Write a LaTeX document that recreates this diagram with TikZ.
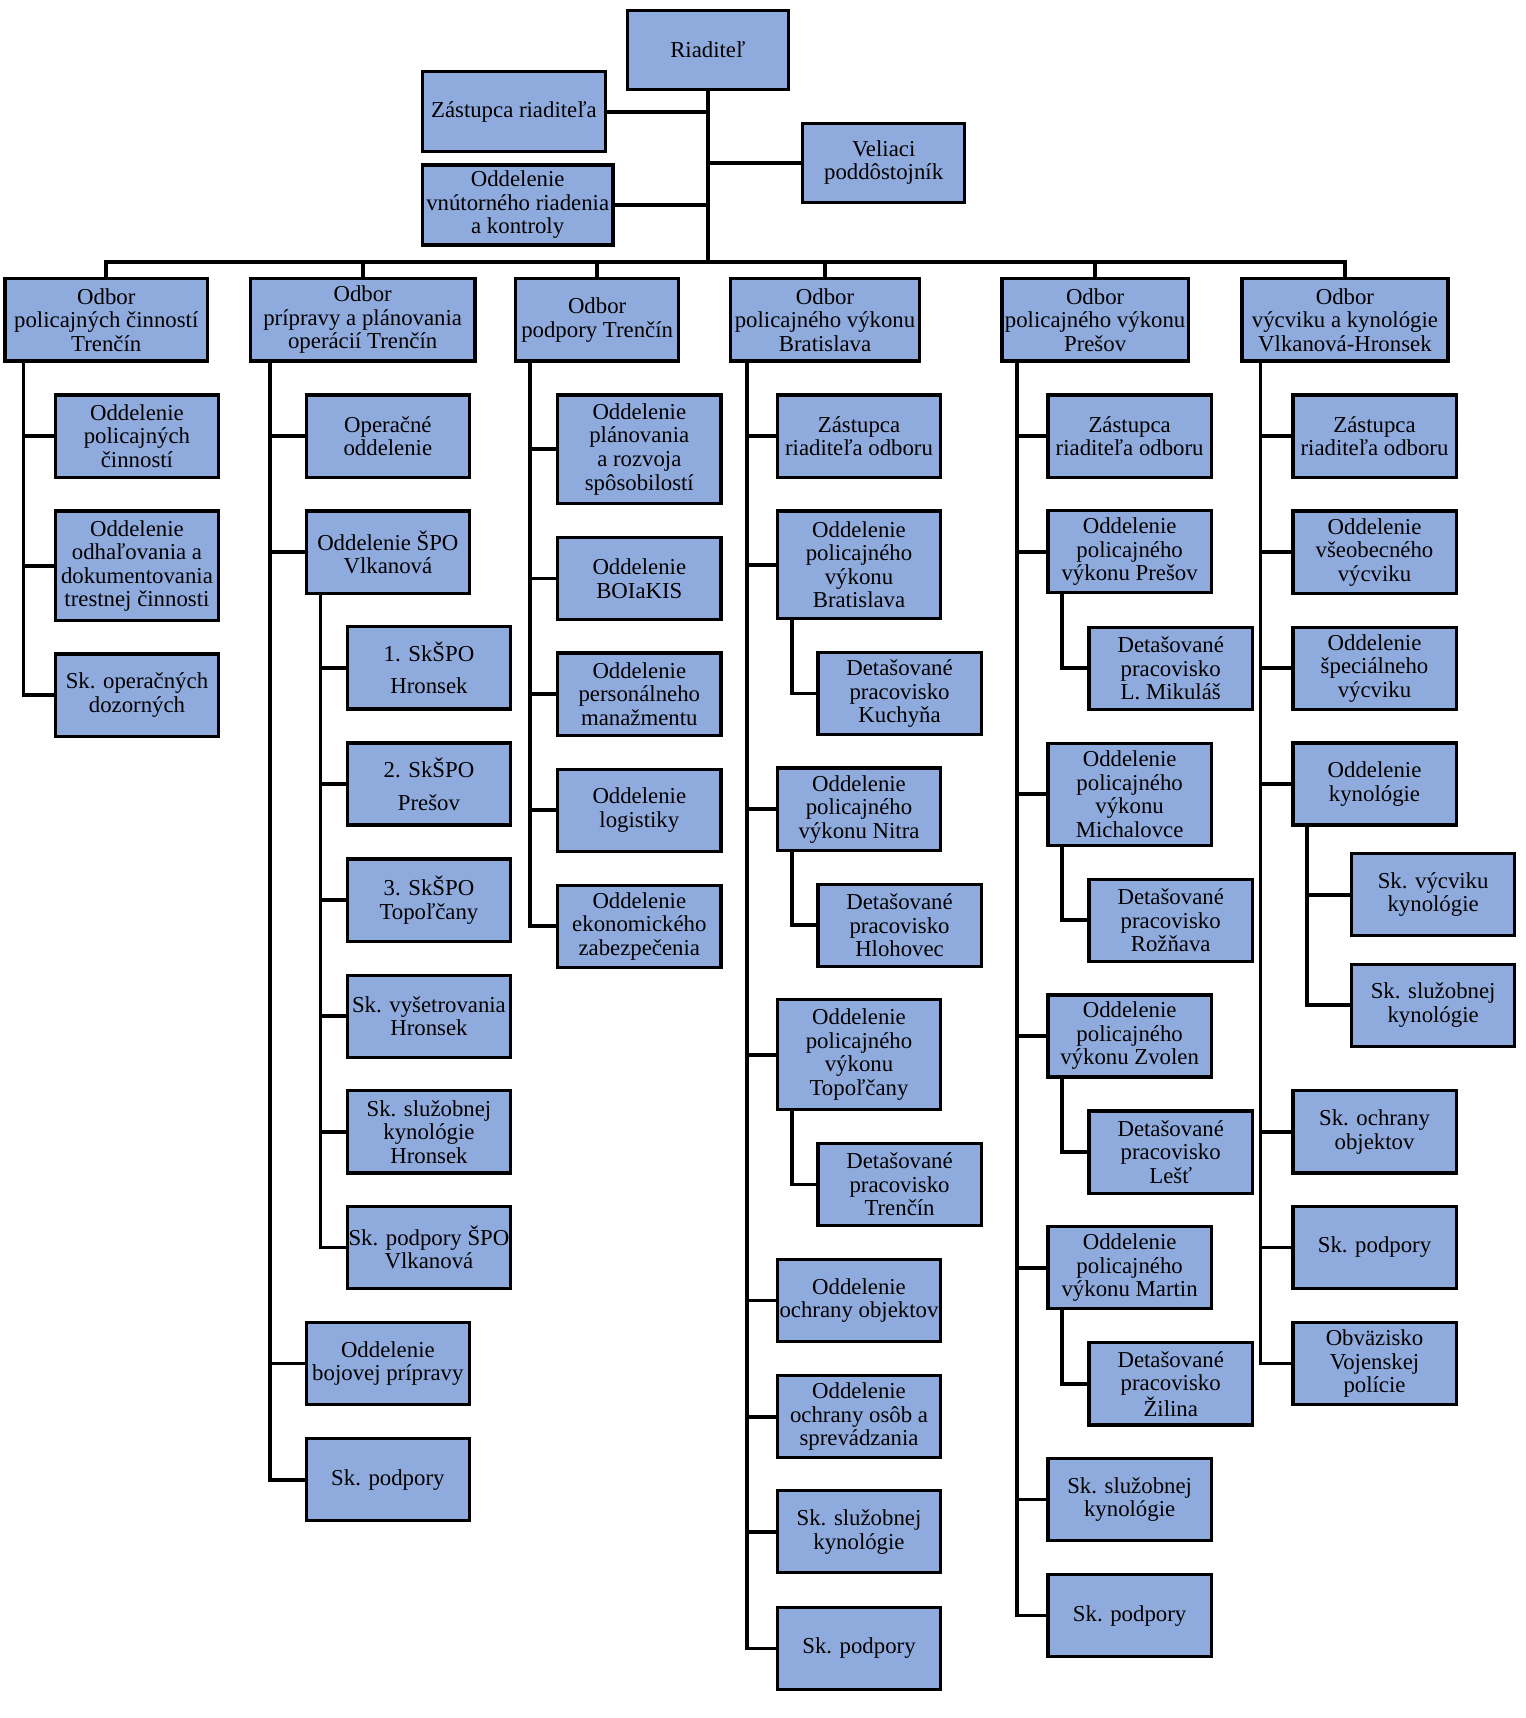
\documentclass[tikz,border=0pt]{standalone}
\usepackage{fontspec}
\setmainfont{Liberation Serif}
\definecolor{boxblue}{RGB}{143,170,220}
\tikzset{
  box/.style={draw, line width=3pt, fill=boxblue, inner sep=0pt, align=center,
    minimum width=149pt, minimum height=75pt, font=\fontsize{20.8}{21.5}\selectfont},
  conn/.style={line width=3.5pt}
}
\begin{document}
\begin{tikzpicture}[x=1pt, y=-1pt]
  \useasboundingbox (0,0) rectangle (1392,1568);

  % vedenie
  \node[box, minimum width=147pt, minimum height=72pt] (riad) at (646,45.5) {Riaditeľ};
  \node[box, minimum width=167pt, minimum height=73pt] (zast) at (469,102) {Zástupca riaditeľa};
  \node[box, minimum width=174pt, minimum height=73pt] (ovrk) at (472.5,187) {Oddelenie\\vnútorného riadenia\\a kontroly};
  \node[box, minimum width=148pt, minimum height=72pt] (vel) at (806.5,148.5) {Veliaci\\poddôstojník};

  % odbory
  \node[box, minimum width=185pt] (odb1) at (97,292) {Odbor\\policajných činností\\Trenčín};
  \node[box, minimum width=205pt] (odb2) at (331,292) {Odbor\\prípravy a plánovania\\operácií Trenčín};
  \node[box] (odb3) at (545,292) {Odbor\\podpory Trenčín};
  \node[box, minimum width=173pt] (odb4) at (753,292) {Odbor\\policajného výkonu\\Bratislava};
  \node[box, minimum width=170pt] (odb5) at (999.5,292) {Odbor\\policajného výkonu\\Prešov};
  \node[box, minimum width=188pt] (odb6) at (1227.5,292) {Odbor\\výcviku a kynológie\\Vlkanová-Hronsek};

  % odbor policajnych cinnosti
  \node[box] (a1) at (125,398) {Oddelenie\\policajných\\činností};
  \node[box, minimum height=100pt] (a2) at (125,516.5) {Oddelenie\\odhaľovania a\\dokumentovania\\trestnej činnosti};
  \node[box] (a3) at (125,634.5) {Sk. operačných\\dozorných};

  % odbor pripravy a planovania
  \node[box] (b1) at (354,398) {Operačné\\oddelenie};
  \node[box] (b2) at (354,504) {Oddelenie ŠPO\\Vlkanová};
  \node[box] (b21) at (391.5,609.5) {1. SkŠPO\\[8.5pt]Hronsek};
  \node[box] (b22) at (391.5,715.5) {2. SkŠPO\\[8.5pt]Prešov};
  \node[box] (b23) at (391.5,821.5) {3. SkŠPO\\Topoľčany};
  \node[box] (b24) at (391.5,927.5) {Sk. vyšetrovania\\Hronsek};
  \node[box] (b25) at (391.5,1033) {Sk. služobnej\\kynológie\\Hronsek};
  \node[box] (b26) at (391.5,1138.5) {Sk. podpory ŠPO\\Vlkanová};
  \node[box] (b3) at (354,1244.5) {Oddelenie\\bojovej prípravy};
  \node[box] (b4) at (354,1350.5) {Sk. podpory};

  % odbor podpory
  \node[box, minimum height=99pt] (c1) at (583.5,410) {Oddelenie\\plánovania\\a rozvoja\\spôsobilostí};
  \node[box] (c2) at (583.5,528) {Oddelenie\\BOIaKIS};
  \node[box] (c3) at (583.5,633.5) {Oddelenie\\personálneho\\manažmentu};
  \node[box] (c4) at (583.5,739.5) {Oddelenie\\logistiky};
  \node[box] (c5) at (583.5,845.5) {Oddelenie\\ekonomického\\zabezpečenia};

  % odbor policajneho vykonu Bratislava
  \node[box] (d1) at (784,398) {Zástupca\\riaditeľa odboru};
  \node[box, minimum height=98pt] (d2) at (784,515.5) {Oddelenie\\policajného\\výkonu\\Bratislava};
  \node[box] (d21) at (821,633) {Detašované\\pracovisko\\Kuchyňa};
  \node[box] (d3) at (784,738.5) {Oddelenie\\policajného\\výkonu Nitra};
  \node[box] (d31) at (821,844.5) {Detašované\\pracovisko\\Hlohovec};
  \node[box, minimum height=100pt] (d4) at (784,962.5) {Oddelenie\\policajného\\výkonu\\Topoľčany};
  \node[box] (d41) at (821,1081) {Detašované\\pracovisko\\Trenčín};
  \node[box] (d5) at (784,1187) {Oddelenie\\ochrany objektov};
  \node[box] (d6) at (784,1293) {Oddelenie\\ochrany osôb a\\sprevádzania};
  \node[box] (d7) at (784,1398) {Sk. služobnej\\kynológie};
  \node[box] (d8) at (784,1504.5) {Sk. podpory};

  % odbor policajneho vykonu Presov
  \node[box] (e1) at (1031,398) {Zástupca\\riaditeľa odboru};
  \node[box] (e2) at (1031,503.5) {Oddelenie\\policajného\\výkonu Prešov};
  \node[box] (e21) at (1068.5,610) {Detašované\\pracovisko\\L. Mikuláš};
  \node[box, minimum height=93pt] (e3) at (1031,725) {Oddelenie\\policajného\\výkonu\\Michalovce};
  \node[box] (e31) at (1068.5,840) {Detašované\\pracovisko\\Rožňava};
  \node[box] (e4) at (1031,945.5) {Oddelenie\\policajného\\výkonu Zvolen};
  \node[box] (e41) at (1068.5,1051.5) {Detašované\\pracovisko\\Lešť};
  \node[box] (e5) at (1031,1157) {Oddelenie\\policajného\\výkonu Martin};
  \node[box] (e51) at (1068.5,1263) {Detašované\\pracovisko\\Žilina};
  \node[box] (e6) at (1031,1368.5) {Sk. služobnej\\kynológie};
  \node[box] (e7) at (1031,1474.5) {Sk. podpory};

  % odbor vycviku a kynologie
  \node[box] (f1) at (1254.5,398) {Zástupca\\riaditeľa odboru};
  \node[box] (f2) at (1254.5,504) {Oddelenie\\všeobecného\\výcviku};
  \node[box] (f3) at (1254.5,610) {Oddelenie\\špeciálneho\\výcviku};
  \node[box] (f4) at (1254.5,715.5) {Oddelenie\\kynológie};
  \node[box] (f41) at (1308,816.5) {Sk. výcviku\\kynológie};
  \node[box] (f42) at (1308,917.5) {Sk. služobnej\\kynológie};
  \node[box] (f5) at (1254.5,1033) {Sk. ochrany\\objektov};
  \node[box] (f6) at (1254.5,1138.5) {Sk. podpory};
  \node[box] (f7) at (1254.5,1244.5) {Obväzisko\\Vojenskej\\polície};

  % spoje vedenia
  \coordinate (bus) at (646,239);
  \draw[conn] (riad.south) -- (bus);
  \draw[conn] (zast.east) -- (zast.east -| riad.south);
  \draw[conn] (ovrk.east) -- (ovrk.east -| riad.south);
  \draw[conn] (vel.west) -- (vel.west -| riad.south);
  \draw[conn] (odb1.north) |- (bus) -| (odb6.north);
  \draw[conn] (odb2.north) -- (odb2.north |- bus);
  \draw[conn] (odb3.north) -- (odb3.north |- bus);
  \draw[conn] (odb4.north) -- (odb4.north |- bus);
  \draw[conn] (odb5.north) -- (odb5.north |- bus);

  % kmene odborov
  \coordinate (t1) at ([xshift=18.5pt]odb1.south west);
  \coordinate (t2) at ([xshift=19.5pt]odb2.south west);
  \coordinate (t3) at ([xshift=14.5pt]odb3.south west);
  \coordinate (t4) at ([xshift=16.5pt]odb4.south west);
  \coordinate (t5) at ([xshift=15.5pt]odb5.south west);
  \coordinate (t6) at ([xshift=18.5pt]odb6.south west);

  \draw[conn] (t1) |- (a1.west);
  \draw[conn] (t1) |- (a2.west);
  \draw[conn] (t1) |- (a3.west);

  \draw[conn] (t2) |- (b1.west);
  \draw[conn] (t2) |- (b2.west);
  \draw[conn] (t2) |- (b3.west);
  \draw[conn] (t2) |- (b4.west);
  \coordinate (s2) at ([xshift=14.5pt]b2.south west);
  \draw[conn] (s2) |- (b21.west);
  \draw[conn] (s2) |- (b22.west);
  \draw[conn] (s2) |- (b23.west);
  \draw[conn] (s2) |- (b24.west);
  \draw[conn] (s2) |- (b25.west);
  \draw[conn] (s2) |- (b26.west);

  \draw[conn] (t3) |- (c1.west);
  \draw[conn] (t3) |- (c2.west);
  \draw[conn] (t3) |- (c3.west);
  \draw[conn] (t3) |- (c4.west);
  \draw[conn] (t3) |- (c5.west);

  \draw[conn] (t4) |- (d1.west);
  \draw[conn] (t4) |- (d2.west);
  \draw[conn] (t4) |- (d3.west);
  \draw[conn] (t4) |- (d4.west);
  \draw[conn] (t4) |- (d5.west);
  \draw[conn] (t4) |- (d6.west);
  \draw[conn] (t4) |- (d7.west);
  \draw[conn] (t4) |- (d8.west);
  \draw[conn] ([xshift=14.5pt]d2.south west) |- (d21.west);
  \draw[conn] ([xshift=14.5pt]d3.south west) |- (d31.west);
  \draw[conn] ([xshift=14.5pt]d4.south west) |- (d41.west);

  \draw[conn] (t5) |- (e1.west);
  \draw[conn] (t5) |- (e2.west);
  \draw[conn] (t5) |- (e3.west);
  \draw[conn] (t5) |- (e4.west);
  \draw[conn] (t5) |- (e5.west);
  \draw[conn] (t5) |- (e6.west);
  \draw[conn] (t5) |- (e7.west);
  \draw[conn] ([xshift=14.5pt]e2.south west) |- (e21.west);
  \draw[conn] ([xshift=14.5pt]e3.south west) |- (e31.west);
  \draw[conn] ([xshift=14.5pt]e4.south west) |- (e41.west);
  \draw[conn] ([xshift=14.5pt]e5.south west) |- (e51.west);

  \draw[conn] (t6) |- (f1.west);
  \draw[conn] (t6) |- (f2.west);
  \draw[conn] (t6) |- (f3.west);
  \draw[conn] (t6) |- (f4.west);
  \draw[conn] (t6) |- (f5.west);
  \draw[conn] (t6) |- (f6.west);
  \draw[conn] (t6) |- (f7.west);
  \draw[conn] ([xshift=14.5pt]f4.south west) |- (f41.west);
  \draw[conn] ([xshift=14.5pt]f4.south west) |- (f42.west);
\end{tikzpicture}
\end{document}
